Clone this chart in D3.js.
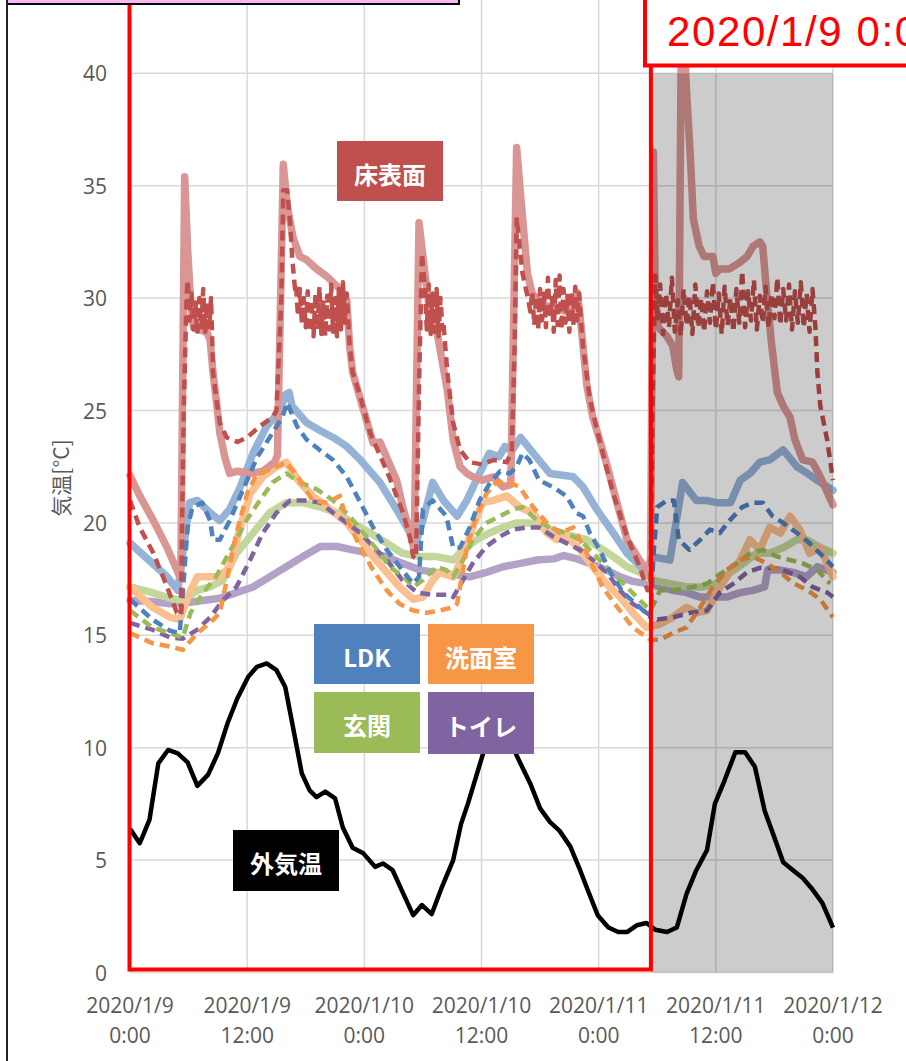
<!DOCTYPE html>
<html>
<head>
<meta charset="utf-8">
<script src="https://cdn.jsdelivr.net/npm/d3@7"></script>
<style>
  html, body { margin: 0; padding: 0; background: #fff; }
  svg { display: block; }
</style>
</head>
<body>
<svg id="chart" width="906" height="1061"></svg>
<script>
// ---- time axis: hours elapsed since 2020/1/9 0:00 ----
const startTime = new Date(2020, 0, 9, 0, 0, 0);
const spanHours = 72;
const xTickHours = [0, 12, 24, 36, 48, 60, 72];
const xTickLine1 = ["2020/1/9", "2020/1/9", "2020/1/10", "2020/1/10", "2020/1/11", "2020/1/11", "2020/1/12"];
const xTickLine2 = ["0:00", "12:00", "0:00", "12:00", "0:00", "12:00", "0:00"];
const yTicks = [0, 5, 10, 15, 20, 25, 30, 35, 40];
const yGrid = [0, 5, 10, 15, 20, 25, 30, 35, 40, 45];

// framed period and shaded period (hours)
const framedPeriod = [0, 53.35];
const shadedPeriod = [53.45, 72];

// ---- series: [hour, °C] ----
const floorSolid = [[0,22.1],[1.0,21.2],[2.4,20.1],[3.8,18.9],[4.8,17.9],[5.2,17.5],[5.6,35.4],[5.9,32.2],[6.2,29.9],[6.5,28.7],[7.2,28.6],[7.9,28.45],[8.2,28.15],[8.5,26.7],[8.9,25.2],[9.2,24.0],[9.7,22.95],[10.2,22.2],[11.0,22.3],[12.3,22.2],[13.6,22.3],[14.8,22.7],[15.1,23.0],[15.7,35.95],[16.1,34.1],[16.7,32.7],[17.4,31.85],[18.1,31.7],[19.1,31.3],[20.2,30.95],[21.5,30.4],[22.2,29.9],[22.5,27.85],[22.8,26.7],[23.6,25.5],[24.3,24.45],[24.9,23.55],[25.6,23.6],[26.3,22.9],[27.3,21.9],[28.0,20.6],[28.7,19.55],[29.1,18.8],[29.6,33.35],[30.0,31.85],[30.4,30.4],[30.7,29.35],[31.4,28.6],[31.7,27.85],[32.5,25.9],[33.1,23.7],[33.8,22.5],[34.5,22.2],[35.1,22.05],[36.1,21.9],[37.2,22.05],[38.2,21.6],[39.0,21.7],[39.6,36.7],[40.1,34.1],[40.7,31.1],[41.2,30.2],[42.0,29.8],[43.0,29.6],[44.0,29.5],[45.1,29.35],[45.8,30.25],[46.1,29.2],[46.4,27.85],[46.8,26.05],[47.4,24.7],[48.1,23.7],[48.9,22.5],[49.5,21.5],[50.9,19.25],[52.2,18.35],[52.9,17.9],[53.3,17.6],[53.6,36.5],[53.8,30.2],[54.1,28.7],[55.0,28.3],[55.6,27.85],[56.0,26.8],[56.2,26.5],[56.5,44.0],[57.0,39.2],[57.4,36.2],[57.7,33.5],[58.3,32.3],[58.8,31.85],[59.7,31.85],[60.0,31.1],[60.4,31.3],[61.4,31.3],[62.5,31.6],[63.2,31.85],[63.8,32.3],[64.5,32.5],[64.8,32.3],[65.2,30.25],[65.7,28.0],[66.3,25.8],[66.9,25.2],[67.6,24.7],[68.1,23.7],[68.9,22.8],[69.9,22.7],[70.7,22.05],[72,20.8]];

const floorDashed = [[0,21.0],[1.0,19.8],[2.4,18.65],[3.8,17.15],[4.8,16.0],[5.2,15.9],[5.5,25.0],[5.8,30.1],[5.9,30.8],[6.1,29.0],[6.3,30.2],[6.5,28.6],[6.7,29.8],[6.9,28.4],[7.1,30.0],[7.3,28.7],[7.5,30.4],[7.7,28.5],[7.9,29.8],[8.1,28.6],[8.3,30.0],[8.4,28.5],[8.5,26.7],[8.9,25.35],[9.2,24.45],[9.9,23.8],[11.0,23.6],[12.0,23.8],[13.3,24.3],[14.6,24.7],[15.0,25.0],[15.5,30.0],[15.7,34.8],[16.1,34.8],[16.4,33.35],[16.6,31.85],[16.9,30.4],
  [17.0,30.6],[17.2,29.2],[17.4,30.4],[17.6,28.9],[17.8,30.0],[18.0,28.7],[18.2,30.3],[18.4,28.5],[18.6,29.9],[18.8,28.3],[19.0,30.2],[19.2,28.6],[19.4,30.5],[19.6,28.4],[19.8,29.8],[20.0,28.3],[20.2,30.1],[20.4,28.6],[20.6,30.6],[20.8,28.5],[21.0,30.0],[21.2,28.3],[21.4,30.4],[21.6,28.6],[21.8,30.7],[22.0,28.9],[22.2,30.2],
  [22.5,27.85],[22.8,26.7],[23.6,25.6],[24.6,24.0],[25.6,23.0],[26.6,22.0],[27.3,21.2],[28.0,20.4],[28.7,19.3],[29.0,18.5],[29.3,18.4],[29.6,26.0],[29.9,32.0],[30.2,30.5],
  [30.4,28.6],[30.6,30.6],[30.8,28.4],[31.0,30.2],[31.2,28.5],[31.4,30.4],[31.6,28.3],[31.8,30.0],[32.0,28.6],
  [32.1,28.9],[32.5,26.7],[33.1,24.45],[33.8,23.25],[34.8,22.7],[36.1,22.6],[37.2,22.8],[38.6,22.7],[39.1,23.2],[39.4,28.0],[39.6,33.6],[40.2,31.1],[40.8,29.9],
  [41.0,29.4],[41.2,30.3],[41.4,28.8],[41.6,30.1],[41.8,28.6],[42.0,30.4],[42.2,29.0],[42.4,30.2],[42.6,28.7],[42.8,30.9],[43.0,29.1],[43.2,30.0],[43.4,28.5],[43.6,30.8],[43.8,28.8],[44.0,31.0],[44.2,28.6],[44.4,30.4],[44.6,28.9],[44.8,30.1],[45.0,28.5],[45.2,30.3],[45.4,28.8],[45.6,30.5],[45.8,29.0],[46.0,30.2],[46.2,28.9],
  [46.4,27.85],[47.1,25.5],[47.8,24.2],[48.6,22.8],[49.5,21.3],[50.9,19.4],[52.2,18.05],[53.0,17.0],[53.3,17.0],[53.5,25.0],[53.8,31.0],
  [54.0,29.0],[54.3,30.6],[54.6,28.4],[54.9,30.2],[55.2,28.7],[55.5,30.9],[55.8,28.5],[56.1,29.9],[56.4,28.3],[56.7,30.4],[57.0,28.8],[57.3,30.1],[57.6,28.4],[57.9,30.6],[58.2,28.7],[58.5,30.0],[58.8,28.5],[59.1,30.3],[59.4,28.9],[59.7,30.7],[60.0,28.6],[60.3,30.2],[60.6,28.4],[60.9,30.5],[61.2,28.8],[61.5,30.0],[61.8,28.5],[62.1,30.4],[62.4,28.9],[62.7,31.2],[63.0,28.7],[63.3,30.3],[63.6,29.0],[63.9,30.8],[64.2,28.6],[64.5,30.1],[64.8,28.9],[65.1,30.5],[65.4,28.7],[65.7,30.2],[66.0,29.1],[66.3,30.9],[66.6,28.8],[66.9,30.4],[67.2,29.0],[67.5,30.6],[67.8,28.6],[68.1,30.3],[68.4,28.9],[68.7,30.7],[69.0,28.7],[69.3,30.2],[69.6,28.5],[69.9,30.4],[70.2,28.7],
  [70.4,26.7],[70.7,25.2],[71.4,23.7],[72,21.9]];

const ldkSolid = [[0,19.1],[2.3,18.2],[3.8,17.6],[4.9,17.0],[6.1,20.9],[6.9,21.0],[8.2,20.45],[9.2,20.1],[10.2,20.6],[11.3,21.6],[12.6,23.1],[14.0,24.3],[15.4,25.0],[15.9,25.7],[16.3,25.8],[16.6,25.2],[18.1,24.45],[19.5,24.1],[20.8,23.8],[22.2,23.4],[23.6,22.8],[25.6,21.8],[27.3,20.6],[28.7,19.55],[29.4,19.25],[30.0,20.1],[31.0,21.8],[32.1,21.0],[33.5,20.3],[34.5,21.0],[35.8,22.2],[36.8,23.1],[37.8,22.95],[38.4,23.4],[39.1,23.2],[40.0,23.8],[41.3,23.1],[43.0,22.2],[45.4,22.05],[46.4,21.6],[47.8,20.6],[49.5,19.55],[50.9,18.65],[52.9,17.8],[53.4,18.5],[55.3,18.35],[56.6,21.8],[58.0,21.0],[59.0,21.0],[60.1,20.9],[61.5,20.9],[62.5,21.9],[63.5,22.2],[64.5,22.7],[65.5,22.8],[66.9,23.25],[68.3,22.5],[69.4,22.2],[70.7,21.8],[72,21.45]];

const ldkDashed = [[0,16.6],[2.3,15.7],[4.1,15.2],[5.1,15.1],[5.9,19.8],[6.4,20.7],[7.4,20.9],[8.2,20.1],[8.5,19.25],[9.2,19.25],[10.2,20.1],[11.6,21.5],[13.0,22.9],[14.3,23.8],[15.6,24.7],[16.1,25.35],[17.1,24.3],[18.1,23.7],[19.4,23.25],[20.8,22.8],[22.2,22.05],[23.6,20.9],[24.9,19.8],[26.3,18.8],[27.9,17.9],[29.0,17.3],[29.6,17.6],[30.0,20.6],[31.0,21.0],[32.4,20.3],[33.1,18.9],[33.8,18.9],[34.8,19.8],[35.8,21.0],[36.9,21.8],[37.9,22.3],[38.9,22.2],[39.6,22.5],[40.2,23.1],[40.9,22.8],[41.9,21.9],[43.3,21.6],[44.7,21.2],[45.7,20.45],[46.4,20.3],[47.1,19.55],[48.1,18.8],[49.2,17.8],[50.5,16.9],[52.2,16.25],[53.3,15.8],[53.6,18.5],[54.0,20.7],[55.0,21.0],[55.7,21.0],[56.2,19.25],[57.3,18.8],[58.4,19.25],[59.4,19.7],[60.4,19.55],[61.4,20.1],[62.7,20.7],[63.8,20.9],[64.8,20.9],[65.8,20.3],[66.9,20.0],[68.3,19.55],[69.6,19.1],[71.0,18.5],[72,18.05]];

const washSolid = [[0,17.15],[2.3,16.25],[4.1,15.8],[5.1,15.7],[6.1,16.9],[6.9,17.6],[8.2,17.6],[9.2,17.6],[10.2,18.05],[11.3,19.8],[12.3,21.3],[13.6,22.05],[15.0,22.5],[16.0,22.7],[17.4,21.8],[18.7,21.2],[20.5,20.6],[22.2,20.0],[23.6,19.25],[24.9,18.5],[26.3,17.8],[27.6,17.15],[29.0,16.6],[30.0,16.7],[31.0,17.45],[31.7,17.8],[33.1,17.6],[34.1,18.5],[35.1,19.8],[36.1,20.9],[37.2,21.0],[38.6,21.2],[39.9,20.7],[41.3,20.45],[42.7,19.55],[43.7,19.25],[44.7,19.4],[46.1,18.8],[47.4,18.05],[48.8,17.3],[50.2,16.7],[51.5,16.0],[52.9,15.35],[54.3,15.5],[55.6,15.8],[57.0,16.25],[58.0,16.0],[59.1,16.1],[60.1,16.9],[61.1,17.6],[62.5,18.35],[63.5,19.25],[64.5,18.8],[65.5,19.8],[66.6,19.55],[67.6,20.3],[68.6,19.7],[69.6,18.65],[70.7,18.9],[72,17.6]];

const washDashed = [[0,15.1],[2.3,14.65],[4.1,14.5],[5.4,14.35],[6.9,15.1],[8.2,15.55],[9.2,16.0],[10.2,18.05],[10.9,19.55],[12.0,21.3],[13.0,22.2],[14.3,22.35],[16.0,22.7],[17.4,21.9],[18.7,21.0],[20.2,20.9],[21.5,21.2],[22.0,20.4],[23.6,18.9],[24.9,17.9],[26.3,17.0],[27.6,16.4],[29.0,16.1],[30.4,16.0],[31.7,16.1],[33.1,16.25],[33.5,16.4],[33.8,17.15],[34.5,18.9],[35.5,20.3],[36.5,21.3],[37.5,21.8],[38.9,21.8],[39.9,21.6],[41.3,20.7],[42.7,20.0],[44.0,19.55],[45.4,19.8],[46.1,19.25],[47.1,18.35],[48.4,17.15],[49.9,16.25],[51.5,15.35],[53.3,14.8],[54.3,14.8],[55.6,15.1],[57.0,15.35],[58.4,16.25],[59.7,17.15],[61.1,17.9],[62.5,18.35],[63.8,18.5],[65.2,18.2],[66.6,17.8],[68.0,17.3],[69.4,17.0],[70.7,16.6],[72,15.8]];

const entrySolid = [[0,17.15],[2.3,16.9],[4.1,16.65],[5.4,16.55],[6.9,17.0],[8.2,17.15],[9.5,17.45],[10.9,18.65],[12.6,19.55],[14.3,20.45],[16.0,20.9],[17.7,20.9],[19.5,20.7],[21.2,20.45],[22.8,20.0],[24.6,19.55],[26.3,19.1],[27.9,18.65],[29.7,18.5],[31.4,18.5],[33.1,18.35],[34.1,18.8],[35.5,19.25],[36.8,19.55],[38.2,19.8],[39.6,20.0],[40.9,20.0],[42.3,19.8],[44.0,19.55],[45.4,19.4],[46.8,19.25],[48.1,18.9],[49.5,18.5],[50.9,18.05],[52.2,17.8],[53.5,17.45],[55.3,17.3],[57.0,17.15],[58.7,17.15],[60.1,17.3],[61.5,17.8],[62.8,18.2],[64.2,18.65],[65.5,18.65],[66.9,18.9],[68.3,19.25],[69.3,19.25],[70.7,18.9],[72,18.65]];

const entryDashed = [[0,16.1],[2.3,15.35],[4.1,15.1],[5.4,14.9],[6.2,16.0],[7.5,16.9],[8.8,17.6],[10.5,18.95],[11.9,20.1],[13.3,21.0],[14.6,21.8],[16.0,22.2],[17.4,21.8],[19.1,21.5],[20.8,21.0],[22.5,20.3],[23.9,19.55],[25.3,18.8],[26.6,18.05],[28.0,17.6],[29.0,17.15],[30.0,17.45],[31.4,18.05],[32.4,17.9],[33.1,17.6],[34.1,18.35],[35.1,19.25],[36.5,20.0],[37.9,20.3],[39.2,20.6],[40.2,20.7],[41.7,20.1],[43.0,19.8],[44.7,19.55],[46.1,19.25],[47.4,18.65],[48.8,18.05],[50.2,17.45],[51.9,16.7],[53.3,16.1],[54.3,17.0],[55.6,17.0],[57.7,17.15],[59.1,17.3],[60.7,17.8],[62.2,18.2],[63.5,18.65],[64.8,18.8],[66.3,18.5],[67.6,18.35],[68.9,18.2],[70.4,17.9],[71.7,17.3]];

const toiletSolid = [[0,16.55],[2.3,16.5],[4.1,16.4],[5.8,16.45],[7.5,16.55],[9.2,16.65],[10.9,16.9],[12.6,17.15],[14.3,17.6],[16.0,18.05],[17.7,18.5],[19.5,18.95],[21.2,18.95],[22.8,18.8],[24.6,18.65],[26.3,18.5],[27.9,18.2],[29.7,17.9],[31.4,17.8],[33.1,17.7],[34.8,17.6],[36.5,17.8],[38.2,18.05],[40.0,18.2],[41.7,18.35],[43.4,18.4],[44.4,18.55],[45.8,18.4],[47.1,18.2],[48.8,17.9],[50.2,17.6],[51.5,17.4],[52.9,17.3],[54.3,17.15],[55.6,17.0],[57.0,16.9],[58.4,16.7],[59.7,16.7],[61.1,16.7],[62.5,16.9],[63.8,17.0],[65.0,17.15],[65.3,17.9],[66.6,17.9],[67.9,17.8],[69.3,17.6],[70.4,18.05],[72,17.8]];

const toiletDashed = [[0,15.55],[2.3,15.25],[4.1,14.9],[5.4,14.85],[6.9,15.25],[8.2,15.8],[9.5,16.55],[10.9,17.15],[12.3,18.35],[13.6,19.55],[15.0,20.45],[16.4,21.0],[18.1,21.0],[19.5,20.9],[20.8,20.45],[22.2,20.0],[23.6,19.55],[24.9,18.95],[26.3,18.35],[27.9,17.45],[29.4,16.9],[31.0,16.8],[32.8,16.8],[33.1,16.7],[34.1,17.45],[35.1,18.2],[36.5,18.95],[37.9,19.4],[39.2,19.7],[40.6,19.8],[41.9,19.8],[43.3,19.4],[44.7,19.1],[46.1,18.8],[47.4,18.35],[48.8,17.8],[50.2,17.0],[51.5,16.4],[52.9,16.0],[54.0,15.7],[55.6,15.8],[57.4,16.0],[59.1,16.1],[60.4,16.9],[61.8,17.3],[63.2,17.8],[64.5,18.0],[65.9,18.0],[67.2,17.85],[68.6,17.6],[69.9,17.15],[71.4,16.9],[72,16.7]];

const outdoor = [[0,6.4],[1.0,5.75],[2.0,6.8],[2.9,9.3],[3.9,9.9],[4.9,9.75],[5.9,9.35],[6.9,8.3],[8.0,8.8],[9.0,9.75],[10.0,11.1],[11.0,12.2],[12.1,13.15],[13.0,13.6],[14.0,13.75],[15.0,13.45],[15.9,12.7],[16.7,10.9],[17.6,8.85],[18.4,8.1],[19.1,7.8],[20.0,8.05],[21.0,7.75],[21.8,6.45],[22.8,5.55],[23.9,5.3],[25.1,4.7],[25.9,4.85],[26.9,4.55],[28.0,3.5],[29.0,2.55],[29.9,3.0],[30.9,2.6],[31.9,3.75],[33.1,5.0],[33.9,6.6],[34.6,7.5],[36.1,9.65],[36.8,10.6],[37.6,11.0],[38.4,10.9],[39.0,10.4],[39.6,9.65],[41.0,8.4],[42.0,7.3],[43.0,6.7],[44.0,6.3],[45.1,5.6],[46.1,4.55],[46.9,3.65],[47.9,2.55],[49.0,2.0],[50.0,1.8],[50.9,1.8],[51.9,2.1],[52.9,2.2],[53.8,1.9],[55.0,1.8],[56.0,2.0],[57.0,3.5],[58.0,4.55],[59.1,5.45],[59.9,7.5],[60.9,8.55],[62.0,9.8],[63.0,9.8],[64.0,9.15],[65.0,7.2],[66.0,6.0],[66.9,4.9],[67.9,4.55],[68.9,4.2],[69.8,3.75],[70.9,3.1],[72,2.0]];

// name boxes drawn on the plot
const nameLabels = ["床表面", "LDK", "洗面室", "玄関", "トイレ", "外気温"];
const nameColors = ["#c0504d", "#4f81bd", "#f79646", "#9bbb59", "#8064a2", "#000000"];

// ---- layout ----
const svg = d3.select("#chart");
const toDate = h => new Date(startTime.getTime() + h * 3600000);

const x = d3.scaleTime()
  .domain([toDate(0), toDate(spanHours)])
  .range([130, 833]);
const y = d3.scaleLinear()
  .domain([0, 45])
  .range([972.5, 972.5 - 45 * 22.48]);

const plotLeft = x(toDate(0)), plotRight = x(toDate(spanHours));
const axisFont = "'Open Sans', 'Liberation Sans', sans-serif";
const cjkFont = "'Noto Sans CJK JP', 'Noto Sans', sans-serif";

// gridlines
const grid = svg.append("g");
grid.selectAll("line.h").data(yGrid).join("line")
  .attr("x1", plotLeft).attr("x2", plotRight)
  .attr("y1", d => y(d)).attr("y2", d => y(d))
  .attr("stroke", "#d9d9d9").attr("stroke-width", 1.5);
grid.selectAll("line.v").data(xTickHours).join("line")
  .attr("x1", d => x(toDate(d))).attr("x2", d => x(toDate(d)))
  .attr("y1", y(0)).attr("y2", y(45))
  .attr("stroke", "#d9d9d9").attr("stroke-width", 1.5);

// y axis labels
const yAxis = d3.axisLeft(y).tickValues(yTicks).tickSize(0).tickPadding(0).tickFormat(d3.format("d"));
const yAxisG = svg.append("g").attr("transform", "translate(107,0)").call(yAxis);
yAxisG.select(".domain").remove();
yAxisG.selectAll("text")
  .attr("font-family", axisFont).attr("font-size", 21).attr("fill", "#595959")
  .attr("dy", "0.36em");

// x axis labels (two lines)
const xLab = svg.append("g");
xLab.selectAll("text.l1").data(xTickHours).join("text")
  .attr("x", d => x(toDate(d))).attr("y", 1013)
  .attr("text-anchor", "middle").attr("font-family", axisFont).attr("font-size", 21).attr("fill", "#595959")
  .text((d, i) => xTickLine1[i]);
xLab.selectAll("text.l2").data(xTickHours).join("text")
  .attr("x", d => x(toDate(d))).attr("y", 1043)
  .attr("text-anchor", "middle").attr("font-family", axisFont).attr("font-size", 21).attr("fill", "#595959")
  .text((d, i) => xTickLine2[i]);

// y axis title
svg.append("text")
  .attr("transform", "translate(60,478) rotate(-90)")
  .attr("text-anchor", "middle").attr("dominant-baseline", "central")
  .attr("font-family", cjkFont).attr("font-size", 21).attr("fill", "#595959")
  .text("気温[°C]");

// series lines
const line = d3.line().x(d => x(toDate(d[0]))).y(d => y(d[1]));
const solids = [
  { data: toiletSolid, color: "#b3a2c7" },
  { data: entrySolid, color: "#c3d69b" },
  { data: washSolid, color: "#fac090" },
  { data: ldkSolid, color: "#95b3d7" },
  { data: floorSolid, color: "#d99694" }
];
const dashes = [
  { data: toiletDashed, color: "#8064a2" },
  { data: entryDashed, color: "#9bbb59" },
  { data: washDashed, color: "#f79646" },
  { data: ldkDashed, color: "#4f81bd" },
  { data: floorDashed, color: "#c0504d" }
];
const series = svg.append("g");
series.selectAll("path.solid").data(solids).join("path")
  .attr("d", d => line(d.data)).attr("fill", "none")
  .attr("stroke", d => d.color).attr("stroke-width", 7.5)
  .attr("stroke-linejoin", "round").attr("stroke-linecap", "round");
series.selectAll("path.dash").data(dashes).join("path")
  .attr("d", d => line(d.data)).attr("fill", "none")
  .attr("stroke", d => d.color).attr("stroke-width", 4.5)
  .attr("stroke-dasharray", "10,6").attr("stroke-linejoin", "round");
series.append("path")
  .attr("d", line(outdoor)).attr("fill", "none")
  .attr("stroke", "#000").attr("stroke-width", 4.5).attr("stroke-linejoin", "round");

// shaded period
svg.append("rect")
  .attr("x", x(toDate(shadedPeriod[0])))
  .attr("width", x(toDate(shadedPeriod[1])) - x(toDate(shadedPeriod[0])))
  .attr("y", y(40)).attr("height", y(0) - y(40))
  .attr("fill", "#000").attr("fill-opacity", 0.2);

// framed period (red outline, open above the top edge)
const fx0 = x(toDate(framedPeriod[0])) - 0.5, fx1 = x(toDate(framedPeriod[1])), fyb = y(0) - 3;
svg.append("path")
  .attr("d", `M${fx0},-10 L${fx0},${fyb} L${fx1},${fyb} L${fx1},-10`)
  .attr("fill", "none").attr("stroke", "#ff0000").attr("stroke-width", 4);

// series name boxes
const boxes = [
  { x: 337, y: 141, w: 106, h: 60 },
  { x: 314, y: 624, w: 106, h: 60 },
  { x: 428, y: 624, w: 106, h: 60 },
  { x: 314, y: 692, w: 106, h: 61 },
  { x: 428, y: 692, w: 106, h: 62 },
  { x: 233, y: 830, w: 106, h: 61 }
];
const nb = svg.append("g").selectAll("g").data(nameLabels).join("g");
nb.append("rect")
  .attr("x", (d, i) => boxes[i].x).attr("y", (d, i) => boxes[i].y)
  .attr("width", (d, i) => boxes[i].w).attr("height", (d, i) => boxes[i].h)
  .attr("fill", (d, i) => nameColors[i]);
nb.append("text")
  .attr("x", (d, i) => boxes[i].x + boxes[i].w / 2)
  .attr("y", (d, i) => boxes[i].y + boxes[i].h / 2 + 2)
  .attr("text-anchor", "middle").attr("dominant-baseline", "central")
  .attr("font-family", cjkFont).attr("font-weight", "bold").attr("font-size", 24)
  .attr("fill", "#fff")
  .text(d => d);

// date callout at top right (runs past the right edge of the page)
svg.append("rect")
  .attr("x", 645).attr("y", -20).attr("width", 300).attr("height", 85.5)
  .attr("fill", "#fff").attr("stroke", "#ff0000").attr("stroke-width", 4);
svg.append("text")
  .attr("x", 667).attr("y", 46)
  .attr("font-family", "'Liberation Sans', Arial, sans-serif").attr("font-size", 42)
  .attr("letter-spacing", 1.6)
  .attr("fill", "#ff0000")
  .text("2020/1/9 0:00");

// pink caption box at top left and the outer frame line
svg.append("rect")
  .attr("x", 7).attr("y", -40).attr("width", 452).attr("height", 44)
  .attr("fill", "#f6b8f2").attr("stroke", "#000").attr("stroke-width", 2);
svg.append("line")
  .attr("x1", 7).attr("x2", 7).attr("y1", 0).attr("y2", 1061)
  .attr("stroke", "#222").attr("stroke-width", 2);
</script>
</body>
</html>
